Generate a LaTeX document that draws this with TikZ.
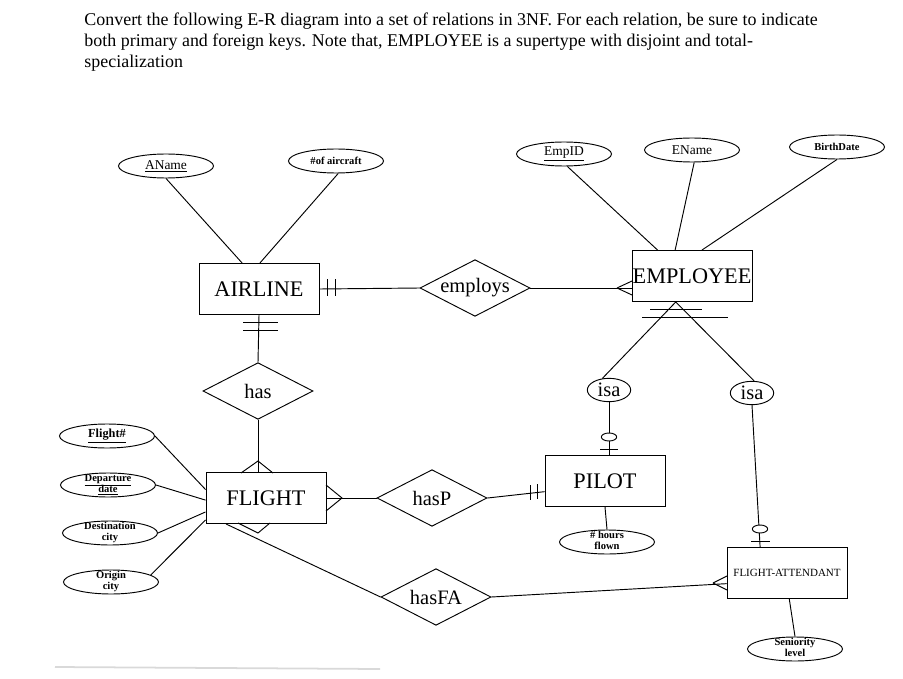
\documentclass[tikz,border=0pt]{standalone}
\usepackage{fontspec}
\setmainfont{Liberation Serif}
\usetikzlibrary{shapes.geometric}

% две строки в маленьком овале
\newcommand{\twolines}[2]{\smash{\raisebox{-0.25em}{\renewcommand{\arraystretch}{0.82}\begin{tabular}{@{}c@{}}#1\\#2\end{tabular}}}}

\begin{document}
\begin{tikzpicture}[x=0.03cm, y=-0.03cm, line width=0.8pt,
    entity/.style={draw, minimum width=3.6cm, minimum height=1.53cm, inner sep=0pt, font=\fontsize{19}{20}\selectfont},
    rel/.style={draw, diamond, aspect=2, minimum width=3.3cm, minimum height=1.7cm, inner sep=0pt, font=\fontsize{17.5}{19}\selectfont},
    attr/.style={draw, ellipse, minimum width=2.85cm, minimum height=0.72cm, inner sep=0pt, font=\fontsize{11.5}{12}\selectfont},
    smallattr/.style={attr, font=\bfseries\fontsize{9}{10.5}\selectfont},
    isabox/.style={draw, ellipse, minimum width=1.3cm, minimum height=0.7cm, inner sep=0pt, font=\fontsize{17.5}{19}\selectfont}]
    \path[use as bounding box] (0,0) rectangle (903,679);

    % Текст задания
    \node[anchor=north west, align=left, inner sep=0pt, font=\fontsize{15.3}{17.9}\selectfont] (task) at (84,12)
        {Convert the following E-R diagram into a set of relations in 3NF. For each relation, be sure to indicate\\
         both primary and foreign keys. Note that, EMPLOYEE is a supertype with disjoint and total-\\
         specialization};

    % Атрибуты сверху
    \node[attr] (aname) at (166,166) {\underline{AName}};
    \node[smallattr] (aircraft) at (336,161) {\#of aircraft};
    \node[attr] (empid) at (564,154) {\underline{EmpID}};
    \node[attr] (ename) at (692,150) {EName};
    \node[smallattr] (birth) at (837,147) {BirthDate};

    % Сущности и связи
    \node[entity] (airline) at (259,289) {AIRLINE};
    \node[rel] (employs) at (475,288) {employs};
    \node[entity] (employee) at (692,276) {EMPLOYEE};
    \node[rel] (has) at (258,391) {has};
    \node[isabox] (isa1) at (609,390) {isa};
    \node[isabox] (isa2) at (752,393) {isa};
    \node[entity] (flight) at (266,498) {FLIGHT};
    \node[rel] (hasp) at (432,498) {hasP};
    \node[entity] (pilot) at (605,481) {PILOT};
    \node[rel] (hasfa) at (436,597) {hasFA};
    \node[entity, font=\fontsize{9.4}{10}\selectfont] (fa) at (787,573) {FLIGHT-ATTENDANT};

    % Атрибуты снизу и слева
    \node[smallattr] (hours) at (607,542) {\twolines{\# hours}{flown}};
    \node[smallattr] (senior) at (795,649) {\twolines{Seniority}{level}};
    \node[attr, font=\bfseries\fontsize{10.5}{12}\selectfont] (flightno) at (107,436) {\underline{Flight\#}};
    \node[smallattr] (depart) at (108,485) {\twolines{\underline{Departure}}{\underline{date}}};
    \node[smallattr] (dest) at (110,533) {\twolines{Destination}{city}};
    \node[smallattr] (origin) at (111,582) {\twolines{Origin}{city}};

    % Линии атрибутов
    \draw (aname.south) -- (airline.123);
    \draw (aircraft.-80) -- (airline.88);
    \draw (empid.-75) -- (employee.143);
    \draw (ename.-80) -- (employee.123);
    \draw (birth.south) -- (employee.69);
    \draw (flightno.east) -- (flight.172);
    \draw (depart.east) -- (flight.182);
    \draw (dest.east) -- (flight.193);
    \draw (origin.10) -- (flight.200);
    \draw (pilot.south) -- (hours.north);
    \draw (fa.-85) -- (senior.north);

    % Линии связей
    \draw (airline.east) -- (employs.west);
    \draw (employs.east) -- (employee.west |- employs.east);
    \draw (airline.south) -- (has.north);
    \draw (has.south) -- (has.south |- flight.north);
    \draw (flight.east) -- (hasp.west);
    \draw (hasp.east) -- (pilot.190);
    \draw (flight.-147) -- (hasfa.west);
    \draw (hasfa.east) -- (fa.190);

    % Иерархия EMPLOYEE
    \draw (isa1.120) -- (employee.-122) -- (isa2.80);
    \draw (isa1.south) -- (isa1.south |- pilot.north);
    \draw (isa2.south) -- (fa.136);

    % Отметки у AIRLINE
    \draw (327,279) -- (327,296) (335,279) -- (335,296);
    \draw (243,322) -- (278,322) (243,330) -- (278,330);
    % Вилка у EMPLOYEE
    \draw (617,288) -- (632,281) (617,288) -- (632,295);
    % Черты под EMPLOYEE
    \draw (650,309) -- (702,309) (642,317) -- (728,317);
    % Вилки у FLIGHT
    \draw (241,473) -- (258,461) -- (273,473);
    \draw (326,485) -- (342,498) -- (326,511);
    \draw (238,523) -- (258,533) -- (270,523);
    % Отметки у PILOT
    \draw (530,485) -- (530,500) (537,484) -- (537,499);
    % Кружки и черты у подтипов
    \draw[fill=white] (609,437) ellipse [x radius=0.23cm, y radius=0.12cm];
    \draw (600,449) -- (618,449);
    \draw[fill=white] (760,529) ellipse [x radius=0.23cm, y radius=0.12cm];
    \draw (751,541) -- (770,541);
    % Вилка у FLIGHT-ATTENDANT
    \draw (713,583) -- (727,576) (713,583) -- (727,590);

    % Серая черта внизу
    \draw[gray!30, line width=1.5pt] (55,667) -- (380,669);
\end{tikzpicture}
\end{document}
